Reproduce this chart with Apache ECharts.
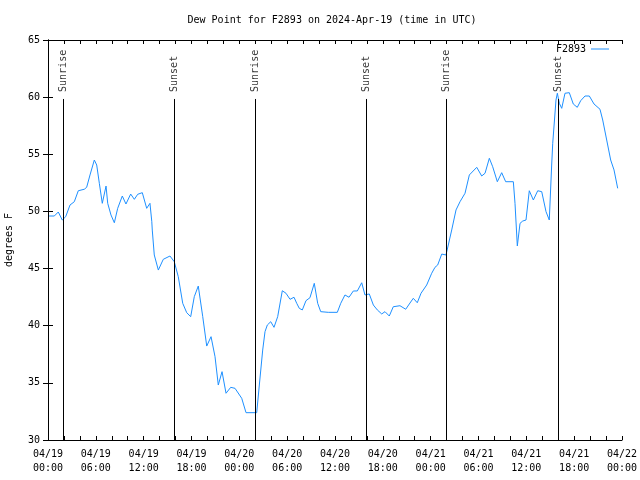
<!DOCTYPE html>
<html>
<head>
<meta charset="utf-8">
<script src="https://cdn.jsdelivr.net/npm/echarts@6/dist/echarts.min.js"></script>
<style>html,body{margin:0;padding:0;background:#fff;}#c{width:640px;height:480px;}</style>
</head>
<body>
<div id="c"></div>
<script>
const titleText = 'Dew Point for F2893 on 2024-Apr-19 (time in UTC)';
const seriesName = 'F2893';
const yAxisName = 'degrees F';
// hours since 2024-04-19 00:00 UTC
const hours = [0.13,0.79,1.29,1.79,2.22,2.76,3.30,3.80,4.55,4.85,5.27,5.81,6.11,6.44,6.81,7.28,7.49,7.90,8.32,8.74,9.32,9.78,10.37,10.83,11.25,11.83,12.38,12.79,12.90,13.02,13.08,13.33,13.84,14.46,15.30,15.84,16.34,16.90,17.40,17.90,18.35,18.85,19.41,19.91,20.45,20.95,21.36,21.83,22.33,22.92,23.46,24.30,24.84,26.18,26.28,26.51,26.93,27.22,27.51,27.94,28.35,28.81,29.39,29.85,30.36,30.86,31.20,31.52,31.90,32.36,32.86,33.40,33.83,34.21,34.46,35.16,36.29,36.72,37.25,37.76,38.30,38.80,39.35,39.76,40.30,40.81,41.31,41.86,42.27,42.81,43.31,44.15,44.87,45.32,45.82,46.32,46.79,47.50,48.13,48.54,48.88,49.39,49.92,50.21,50.64,51.18,51.68,52.31,52.85,53.78,54.40,54.82,55.36,55.78,56.36,56.91,57.41,58.37,58.58,58.87,59.21,59.55,59.96,60.37,60.88,61.43,61.93,62.47,62.88,63.18,63.31,63.72,63.89,64.14,64.44,64.85,65.39,65.89,66.39,66.82,67.36,67.90,68.49,69.24,69.58,70.08,70.58,71.00,71.46];
const dewF = [49.6,49.6,49.95,49.25,49.54,50.56,50.85,51.81,51.94,52.11,53.19,54.5,54.06,52.46,50.71,52.22,50.71,49.69,49.01,50.27,51.35,50.65,51.52,51.06,51.5,51.64,50.27,50.71,50.85,49.1,48.37,46.19,44.87,45.81,46.1,45.6,44.29,41.96,41.14,40.79,42.54,43.47,40.79,38.22,39.04,37.29,34.81,35.98,34.09,34.61,34.52,33.65,32.39,32.39,32.5,34.81,37.87,39.48,40.06,40.35,39.86,40.79,43.06,42.84,42.31,42.49,41.96,41.52,41.38,42.19,42.45,43.71,41.96,41.23,41.09,41.17,41.17,41.96,42.69,42.49,43.04,43.04,43.76,42.69,42.78,41.81,41.38,41.03,41.23,40.85,41.66,41.75,41.44,41.9,42.4,42.01,42.84,43.56,44.59,45.11,45.31,46.27,46.19,47.06,48.38,50.13,50.85,51.59,53.19,53.86,53.1,53.34,54.65,53.91,52.6,53.39,52.6,52.6,50.71,46.98,48.96,49.16,49.25,51.81,51.0,51.81,51.73,49.98,49.25,54.06,55.96,59.75,60.34,59.46,59.02,60.34,60.39,59.4,59.11,59.69,60.1,60.1,59.4,58.94,58.0,56.25,54.5,53.63,52.02];
const eventHours = [1.92, 15.85, 26.05, 39.93, 50.0, 63.97];
const eventLabels = ['Sunrise','Sunset','Sunrise','Sunset','Sunrise','Sunset'];
const eventTop = 59.84;
const xTickLabels = ['04/19\n00:00','04/19\n06:00','04/19\n12:00','04/19\n18:00','04/20\n00:00','04/20\n06:00','04/20\n12:00','04/20\n18:00','04/21\n00:00','04/21\n06:00','04/21\n12:00','04/21\n18:00','04/22\n00:00'];

const FONT = 'DejaVu Sans Mono';
const chart = echarts.init(document.getElementById('c'), null, {renderer: 'canvas'});
const lineData = hours.map((h, i) => [h, dewF[i]]);
const markData = eventHours.map(h => [{coord: [h, eventTop]}, {coord: [h, 30]}]);
const labelData = eventHours.map((h, i) => ({value: [h, eventTop], name: eventLabels[i]}));

const axisCommon = {
  axisLine: {show: true, lineStyle: {color: '#000', width: 1}},
  splitLine: {show: false},
};
chart.setOption({
  animation: false,
  backgroundColor: '#fff',
  title: {
    text: titleText, left: 327, top: 10, textAlign: 'center',
    textStyle: {fontFamily: FONT, fontSize: 10, fontWeight: 'normal', color: '#000'}
  },
  legend: {
    right: 26, top: 39, align: 'right', icon: 'rect', itemWidth: 18, itemHeight: 1, itemGap: 5,
    textStyle: {fontFamily: FONT, fontSize: 10, color: '#000', padding: [0, 0, 0, 0]},
    data: [seriesName]
  },
  grid: {left: 48, right: 18, top: 40, bottom: 40, containLabel: false, outerBoundsMode: 'none'},
  xAxis: [
    Object.assign({}, axisCommon, {
      type: 'value', min: 0, max: 72, interval: 6, position: 'bottom',
      axisTick: {show: true, inside: true, length: 4, lineStyle: {color: '#000'}},
      minorTick: {show: true, splitNumber: 3, length: 4, lineStyle: {color: '#000'}},
      axisLabel: {fontFamily: FONT, fontSize: 10, color: '#000', margin: 7, lineHeight: 14,
        formatter: v => xTickLabels[Math.round(v / 6)]}
    }),
    Object.assign({}, axisCommon, {
      type: 'value', min: 0, max: 72, interval: 6, position: 'top',
      axisTick: {show: true, inside: true, length: 4, lineStyle: {color: '#000'}},
      minorTick: {show: true, splitNumber: 3, length: 4, lineStyle: {color: '#000'}},
      axisLabel: {show: false}
    })
  ],
  yAxis: [
    Object.assign({}, axisCommon, {
      type: 'value', min: 30, max: 65, interval: 5, position: 'left',
      name: yAxisName, nameLocation: 'middle', nameGap: 34, nameRotate: 90,
      nameTextStyle: {fontFamily: FONT, fontSize: 10, color: '#000'},
      axisTick: {show: true, inside: true, length: 5, lineStyle: {color: '#000'}},
      axisLabel: {fontFamily: FONT, fontSize: 10, color: '#000', margin: 8}
    }),
    Object.assign({}, axisCommon, {
      type: 'value', min: 30, max: 65, interval: 5, position: 'right',
      axisTick: {show: true, inside: true, length: 5, lineStyle: {color: '#000'}},
      axisLabel: {show: false}
    })
  ],
  series: [
    {
      name: seriesName, type: 'line', data: lineData, showSymbol: false, symbol: 'none',
      lineStyle: {color: '#1e90ff', width: 1}, itemStyle: {color: '#1e90ff'},
      z: 3,
      markLine: {
        silent: true, symbol: ['none', 'none'], label: {show: false},
        lineStyle: {color: '#000', width: 1, type: 'solid'},
        data: markData
      }
    },
    {
      name: 'events', type: 'scatter', data: labelData, symbolSize: 0, silent: true,
      label: {
        show: true, formatter: p => p.name, position: 'top', distance: 7, rotate: 90,
        align: 'left', verticalAlign: 'middle',
        fontFamily: FONT, fontSize: 10, color: '#000'
      }
    }
  ]
});
</script>
</body>
</html>
